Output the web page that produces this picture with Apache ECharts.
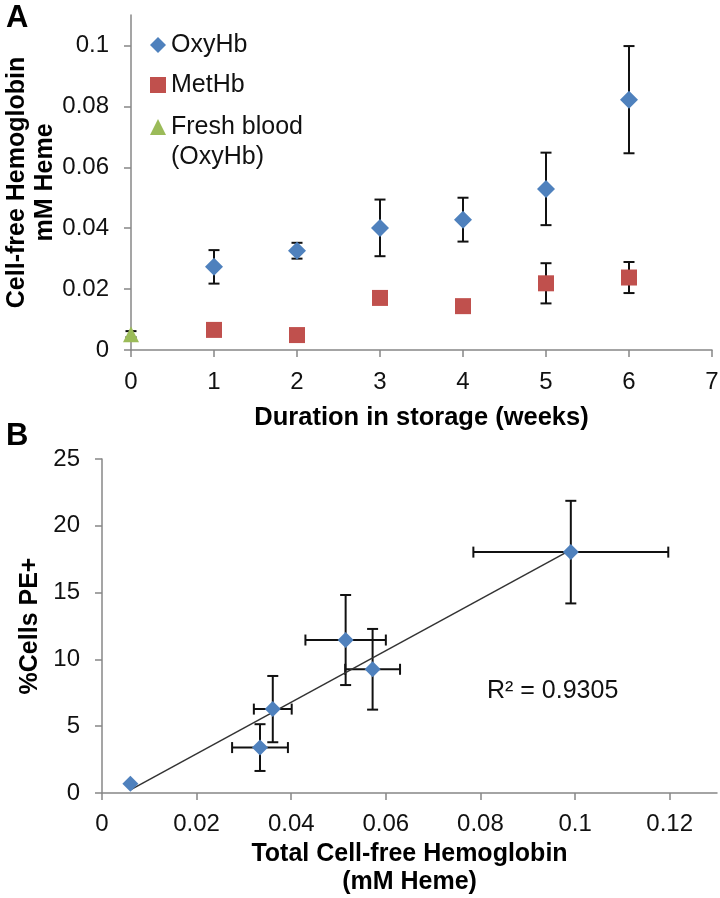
<!DOCTYPE html>
<html>
<head>
<meta charset="utf-8">
<script src="https://cdn.jsdelivr.net/npm/echarts@6/dist/echarts.min.js"></script>
<style>
html,body{margin:0;padding:0;background:#fff;}
#chart{width:720px;height:898px;}
</style>
</head>
<body>
<div id="chart"></div>
<script>
// ---- Panel A data ----
const weeksOxy = [1, 2, 3, 4, 5, 6];
const oxyMean  = [0.0273, 0.0326, 0.0401, 0.0428, 0.0529, 0.0822];
const oxyErr   = [0.0055, 0.0026, 0.0093, 0.0072, 0.0119, 0.0176];
const weeksMet = [1, 2, 3, 4, 5, 6];
const metMean  = [0.0066, 0.0049, 0.0171, 0.0144, 0.0219, 0.0238];
const metErr   = [0.001, 0.001, 0.001, 0.001, 0.0066, 0.0051];
const freshWeek = [0];
const freshMean = [0.0052];
const freshErr  = [0.001];
const aXTicks = [0, 1, 2, 3, 4, 5, 6, 7];
const aYTicks = [0, 0.02, 0.04, 0.06, 0.08, 0.1];

// ---- Panel B data ----
const hbTotal = [0.0060, 0.0334, 0.0361, 0.0515, 0.0572, 0.0991];
const hbErr   = [0, 0.0059, 0.0040, 0.0085, 0.0058, 0.0206];
const pePct   = [0.70, 3.40, 6.28, 11.45, 9.26, 18.03];
const peErr   = [0, 1.75, 2.48, 3.37, 3.02, 3.84];
const bXTicks = [0, 0.02, 0.04, 0.06, 0.08, 0.1, 0.12];
const bYTicks = [0, 5, 10, 15, 20, 25];
const r2Text = 'R² = 0.9305';

const FONT = "'Liberation Sans', Arial, sans-serif";
const AXIS_GRAY = '#878787';
const C_OXY = '#4F81BD', C_MET = '#C0504D', C_FRESH = '#9BBB59';

// linear regression for trendline
function linreg(xs, ys) {
  const n = xs.length;
  const mx = xs.reduce((a, b) => a + b, 0) / n;
  const my = ys.reduce((a, b) => a + b, 0) / n;
  let sxy = 0, sxx = 0;
  for (let i = 0; i < n; i++) { sxy += (xs[i] - mx) * (ys[i] - my); sxx += (xs[i] - mx) ** 2; }
  const b = sxy / sxx;
  return { a: my - b * mx, b };
}
const fit = linreg(hbTotal, pePct);
const xMin = Math.min(...hbTotal), xMax = Math.max(...hbTotal);
const trend = [[xMin, fit.a + fit.b * xMin], [xMax, fit.a + fit.b * xMax]];

const CAP = 5.5;
function errItem(params, api) {
  const x = api.value(0), y = api.value(1), ex = api.value(2), ey = api.value(3);
  const children = [];
  const st = { stroke: '#111', lineWidth: 2 };
  if (ey > 0) {
    const t = api.coord([x, y + ey]), b = api.coord([x, y - ey]);
    children.push({ type: 'line', shape: { x1: t[0], y1: t[1], x2: b[0], y2: b[1] }, style: st });
    children.push({ type: 'line', shape: { x1: t[0] - CAP, y1: t[1], x2: t[0] + CAP, y2: t[1] }, style: st });
    children.push({ type: 'line', shape: { x1: b[0] - CAP, y1: b[1], x2: b[0] + CAP, y2: b[1] }, style: st });
  }
  if (ex > 0) {
    const l = api.coord([x - ex, y]), r = api.coord([x + ex, y]);
    children.push({ type: 'line', shape: { x1: l[0], y1: l[1], x2: r[0], y2: r[1] }, style: st });
    children.push({ type: 'line', shape: { x1: l[0], y1: l[1] - CAP, x2: l[0], y2: l[1] + CAP }, style: st });
    children.push({ type: 'line', shape: { x1: r[0], y1: r[1] - CAP, x2: r[0], y2: r[1] + CAP }, style: st });
  }
  return { type: 'group', children };
}

const zip = (xs, ys) => xs.map((x, i) => [x, ys[i]]);
const errData = (xs, ys, exs, eys) => xs.map((x, i) => [x, ys[i], exs ? exs[i] : 0, eys ? eys[i] : 0]);

const fmt = v => String(+(+v).toFixed(3));

function valueAxis(extra) {
  return Object.assign({
    type: 'value',
    axisLine: { show: true, lineStyle: { color: AXIS_GRAY, width: 1.5 } },
    splitLine: { show: false },
    nameTextStyle: { color: '#000', fontSize: 25, fontWeight: 'bold', fontFamily: FONT, lineHeight: 28 },
    nameLocation: 'middle',
    nameMoveOverlap: false
  }, extra);
}
const lbl = (vals, margin) => ({ color: '#111', fontSize: 24, fontFamily: FONT, margin, customValues: vals, formatter: fmt });
const tck = vals => ({ show: true, length: 7, lineStyle: { color: AXIS_GRAY, width: 1.5 }, customValues: vals });

const chart = echarts.init(document.getElementById('chart'), null, { renderer: 'canvas' });

const legendBase = {
  orient: 'vertical', padding: 0, itemWidth: 16, itemHeight: 16, itemGap: 0,
  textStyle: { fontSize: 25, fontFamily: FONT, color: '#111', lineHeight: 30 },
  selectedMode: false
};

const option = {
  animation: false,
  backgroundColor: '#fff',
  grid: [
    { left: 131, top: 15, width: 581, height: 335, containLabel: false, outerBoundsMode: 'none' },
    { left: 102, top: 459, width: 615, height: 334, containLabel: false, outerBoundsMode: 'none' }
  ],
  xAxis: [
    valueAxis({
      gridIndex: 0, min: 0, max: 7, interval: 1,
      name: 'Duration in storage (weeks)', nameGap: 54,
      nameTextStyle: { color: '#000', fontSize: 25.5, fontWeight: 'bold', fontFamily: FONT, lineHeight: 28 },
      axisLabel: lbl(aXTicks, 20), axisTick: tck(aXTicks)
    }),
    valueAxis({
      gridIndex: 1, min: 0, max: 0.13, interval: 0.02,
      name: 'Total Cell-free Hemoglobin\n(mM Heme)', nameGap: 47,
      axisLabel: lbl(bXTicks, 19), axisTick: tck(bXTicks)
    })
  ],
  yAxis: [
    valueAxis({
      gridIndex: 0, min: 0, max: 0.11, interval: 0.02,
      name: 'Cell-free Hemoglobin\nmM Heme', nameGap: 72, nameRotate: 90,
      axisLabel: lbl(aYTicks, 22), axisTick: tck(aYTicks)
    }),
    valueAxis({
      gridIndex: 1, min: 0, max: 25, interval: 5,
      name: '%Cells PE+', nameGap: 58, nameRotate: 90,
      axisLabel: lbl(bYTicks, 22), axisTick: tck(bYTicks)
    })
  ],
  legend: [
    Object.assign({}, legendBase, { left: 150, top: 30, data: [{ name: 'OxyHb', icon: 'diamond' }] }),
    Object.assign({}, legendBase, { left: 150, top: 70, data: [{ name: 'MetHb', icon: 'rect' }] }),
    Object.assign({}, legendBase, { left: 150, top: 82, formatter: n => ' \n' + n, data: [{ name: 'Fresh blood\n(OxyHb)', icon: 'triangle' }] })
  ],
  graphic: [
    { type: 'text', left: 6, top: 3, style: { text: 'A', font: "bold 31px 'Liberation Sans', Arial", fill: '#000' } },
    { type: 'text', left: 6, top: 421, style: { text: 'B', font: "bold 31px 'Liberation Sans', Arial", fill: '#000' } },
    { type: 'text', left: 487, top: 679, style: { text: r2Text, font: "25px 'Liberation Sans', Arial", fill: '#111' } }
  ],
  series: [
    // Panel A error bars
    { type: 'custom', xAxisIndex: 0, yAxisIndex: 0, renderItem: errItem, data: errData(weeksOxy, oxyMean, null, oxyErr), z: 1, silent: true },
    { type: 'custom', xAxisIndex: 0, yAxisIndex: 0, renderItem: errItem, data: errData(weeksMet, metMean, null, metErr), z: 1, silent: true },
    { type: 'custom', xAxisIndex: 0, yAxisIndex: 0, renderItem: errItem, data: errData(freshWeek, freshMean, null, freshErr), z: 1, silent: true },
    { name: 'OxyHb', type: 'scatter', xAxisIndex: 0, yAxisIndex: 0, symbol: 'diamond', symbolSize: 18, itemStyle: { color: C_OXY, opacity: 1 }, data: zip(weeksOxy, oxyMean), z: 3 },
    { name: 'MetHb', type: 'scatter', xAxisIndex: 0, yAxisIndex: 0, symbol: 'rect', symbolSize: 16, itemStyle: { color: C_MET, opacity: 1 }, data: zip(weeksMet, metMean), z: 3 },
    { name: 'Fresh blood\n(OxyHb)', type: 'scatter', xAxisIndex: 0, yAxisIndex: 0, symbol: 'triangle', symbolSize: 16, itemStyle: { color: C_FRESH, opacity: 1 }, data: zip(freshWeek, freshMean), z: 3 },
    // Panel B
    { type: 'custom', xAxisIndex: 1, yAxisIndex: 1, renderItem: errItem, data: errData(hbTotal, pePct, hbErr, peErr), z: 1, silent: true },
    { type: 'line', xAxisIndex: 1, yAxisIndex: 1, data: trend, symbol: 'none', lineStyle: { color: '#333', width: 1.5 }, z: 2, silent: true },
    { type: 'scatter', xAxisIndex: 1, yAxisIndex: 1, symbol: 'diamond', symbolSize: 16, itemStyle: { color: C_OXY, opacity: 1 }, data: zip(hbTotal, pePct), z: 3 }
  ]
};
chart.setOption(option);
</script>
</body>
</html>
